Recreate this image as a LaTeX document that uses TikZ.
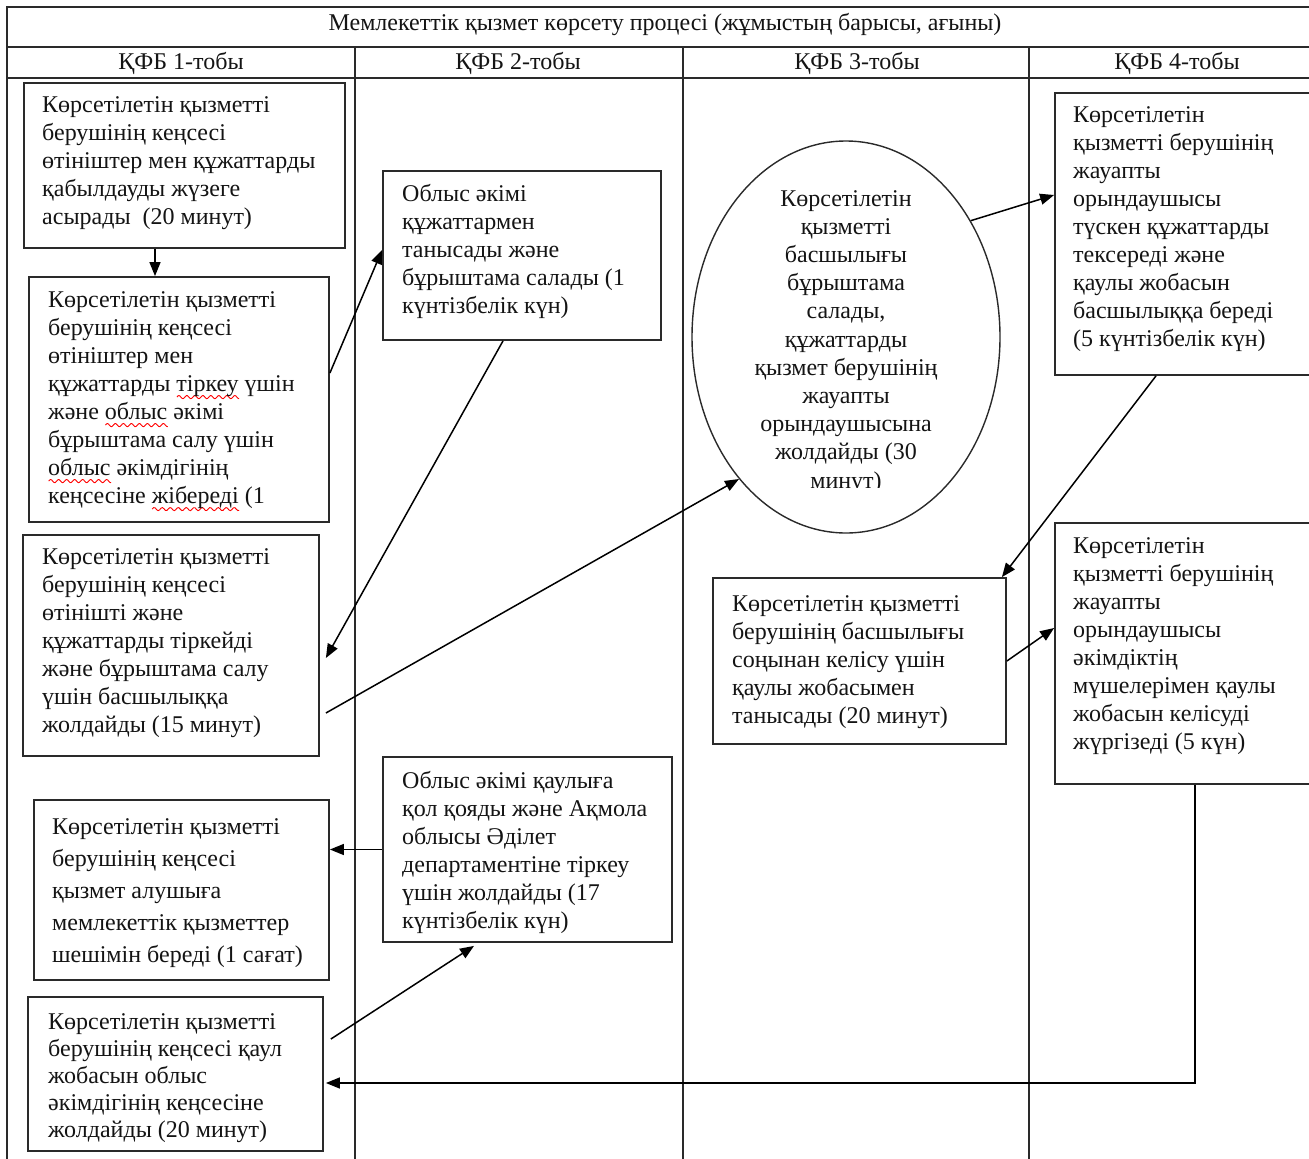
\documentclass[tikz,border=0pt]{standalone}
\usepackage{fontspec}
\setmainfont{Liberation Serif}
\usetikzlibrary{arrows.meta,shapes.geometric}
\definecolor{ink}{HTML}{141414}
\definecolor{lin}{HTML}{2A2A2A}
\newsavebox\wvbox
\newcommand\redwave[1]{\sbox\wvbox{#1}\pgfmathsetmacro\wvw{\the\wd\wvbox}\rlap{\tikz[baseline=0pt,x=1pt,y=1pt]{\draw[red,line width=0.9pt] plot[domain=0:\wvw,samples=60,smooth] (\x,{-6+1.6*sin(\x*45)});}}#1}
\tikzset{
  box/.style={draw=lin, line width=1.8pt, rectangle, inner sep=0pt},
  oval/.style={draw=lin, line width=1.4pt, ellipse, inner sep=0pt},
  txt/.style={anchor=north west, inner sep=0pt, align=left, text=ink,
     font=\fontsize{24}{28}\selectfont},
  ctxt/.style={anchor=north, inner sep=0pt, align=center, text=ink,
     font=\fontsize{24}{28.2}\selectfont},
  head/.style={inner sep=0pt, text=ink, font=\fontsize{24}{28}\selectfont},
  frame/.style={draw=lin, line width=1.8pt},
  conn/.style={draw=black, line width=1.5pt, -{Triangle[length=14pt,width=11pt]}},
}
\begin{document}
\begin{tikzpicture}[x=1pt,y=-1pt]
\clip (0,0) rectangle (1309,1159);
\fill[white] (0,0) rectangle (1309,1159);
% frame
\draw[frame] (7,1159) -- (7,7) -- (1320,7);
\draw[frame] (7,47) -- (1320,47);
\draw[frame] (7,78) -- (1320,78);
\draw[frame] (355,47) -- (355,1159);
\draw[frame] (683,47) -- (683,1159);
\draw[frame] (1029,47) -- (1029,1159);
\node[head] (title) at (665,24) {Мемлекеттік қызмет көрсету процесі (жұмыстың барысы, ағыны)};
\node[head] (h1) at (181,63) {ҚФБ 1-тобы};
\node[head] (h2) at (518,63) {ҚФБ 2-тобы};
\node[head] (h3) at (857,63) {ҚФБ 3-тобы};
\node[head] (h4) at (1177,63) {ҚФБ 4-тобы};
% boxes
\node[box, minimum width=321pt, minimum height=165pt] (b1) at (184.5,165.5) {};
\node[box, minimum width=300pt, minimum height=245pt] (b2) at (179,399.5) {};
\node[box, minimum width=278pt, minimum height=169pt] (b3) at (522,255.5) {};
\node[box, minimum width=296pt, minimum height=221pt] (b4) at (171,645.5) {};
\node[oval, minimum width=308pt, minimum height=392pt] (e) at (846,337) {};
\node[box, minimum width=265pt, minimum height=282pt] (b5) at (1187.5,234) {};
\node[box, minimum width=293pt, minimum height=166pt] (b6) at (859.5,661) {};
\node[box, minimum width=265pt, minimum height=261pt] (b7) at (1187.5,653.5) {};
\node[box, minimum width=289pt, minimum height=185pt] (b8) at (527.5,849.5) {};
\node[box, minimum width=295pt, minimum height=180pt] (b9) at (181.5,890) {};
\node[box, minimum width=295pt, minimum height=154pt] (b10) at (175.5,1074) {};
% texts
\node[txt] (t1) at (42,96) {Көрсетілетін қызметті\\берушінің кеңсесі\\өтініштер мен құжаттарды\\қабылдауды жүзеге\\асырады~~(20 минут)};
\node[txt] (t2) at (48,291) {Көрсетілетін қызметті\\берушінің кеңсесі\\өтініштер мен\\құжаттарды \redwave{тіркеу} үшін\\және \redwave{облыс} әкімі\\бұрыштама салу үшін\\\redwave{облыс} әкімдігінің\\кеңсесіне \redwave{жібереді} (1};
\node[txt] (t3) at (402,184) {Облыс әкімі\\құжаттармен\\танысады және\\бұрыштама салады (1\\күнтізбелік күн)};
\node[txt] (t4) at (42,548) {Көрсетілетін қызметті\\берушінің кеңсесі\\өтінішті және\\құжаттарды тіркейді\\және бұрыштама салу\\үшін басшылыққа\\жолдайды (15 минут)};
\begin{scope}
\clip (680,100) rectangle (1010,487);
\node[ctxt] (te) at (846,190) {Көрсетілетін\\қызметті\\басшылығы\\бұрыштама\\салады,\\құжаттарды\\қызмет берушінің\\жауапты\\орындаушысына\\жолдайды (30\\минут)};
\end{scope}
\node[txt] (t5) at (1073,106) {Көрсетілетін\\қызметті берушінің\\жауапты\\орындаушысы\\түскен құжаттарды\\тексереді және\\қаулы жобасын\\басшылыққа береді\\(5 күнтізбелік күн)};
\node[txt] (t6) at (732,595) {Көрсетілетін қызметті\\берушінің басшылығы\\соңынан келісу үшін\\қаулы жобасымен\\танысады (20 минут)};
\node[txt] (t7) at (1073,537) {Көрсетілетін\\қызметті берушінің\\жауапты\\орындаушысы\\әкімдіктің\\мүшелерімен қаулы\\жобасын келісуді\\жүргізеді (5 күн)};
\node[txt] (t8) at (402,771) {Облыс әкімі қаулыға\\қол қояды және Ақмола\\облысы Әділет\\департаментіне тіркеу\\үшін жолдайды (17\\күнтізбелік күн)};
\node[txt, font=\fontsize{24}{32}\selectfont] (t9) at (52,818) {Көрсетілетін қызметті\\берушінің кеңсесі\\қызмет алушыға\\мемлекеттік қызметтер\\шешімін береді (1 сағат)};
\node[txt, font=\fontsize{24}{27}\selectfont] (t10) at (48,1013) {Көрсетілетін қызметті\\берушінің кеңсесі қаул\\жобасын облыс\\әкімдігінің кеңсесіне\\жолдайды (20 минут)};
% connectors
\draw[conn] ([xshift=-29.5pt]b1.south) -- ([xshift=-24pt]b2.north);
\draw[conn] ([yshift=26.5pt]b2.east) -- ([yshift=5.5pt]b3.west);
\draw[conn] ([xshift=-19pt]b3.south) -- ([xshift=6pt,yshift=-12.5pt]b4.east);
\draw[conn] ([xshift=6pt,yshift=-67.5pt]b4.east) -- (e.233);
\draw[conn] (e.43) -- ([yshift=39pt]b5.west);
\draw[conn] ([xshift=-31.5pt]b5.south) -- ([xshift=-5pt]b6.north east);
\draw[conn] (b6.east) -- ([yshift=25.5pt]b7.west);
\draw[conn] ([xshift=7.5pt]b7.south) |- ([xshift=2pt,yshift=-9pt]b10.east);
\draw[conn] (b8.west) -- (b8.west -| b9.east);
\draw[conn] ([xshift=7pt,yshift=35pt]b10.east) -- ([xshift=-53.5pt,yshift=-3pt]b8.south);
\end{tikzpicture}
\end{document}
